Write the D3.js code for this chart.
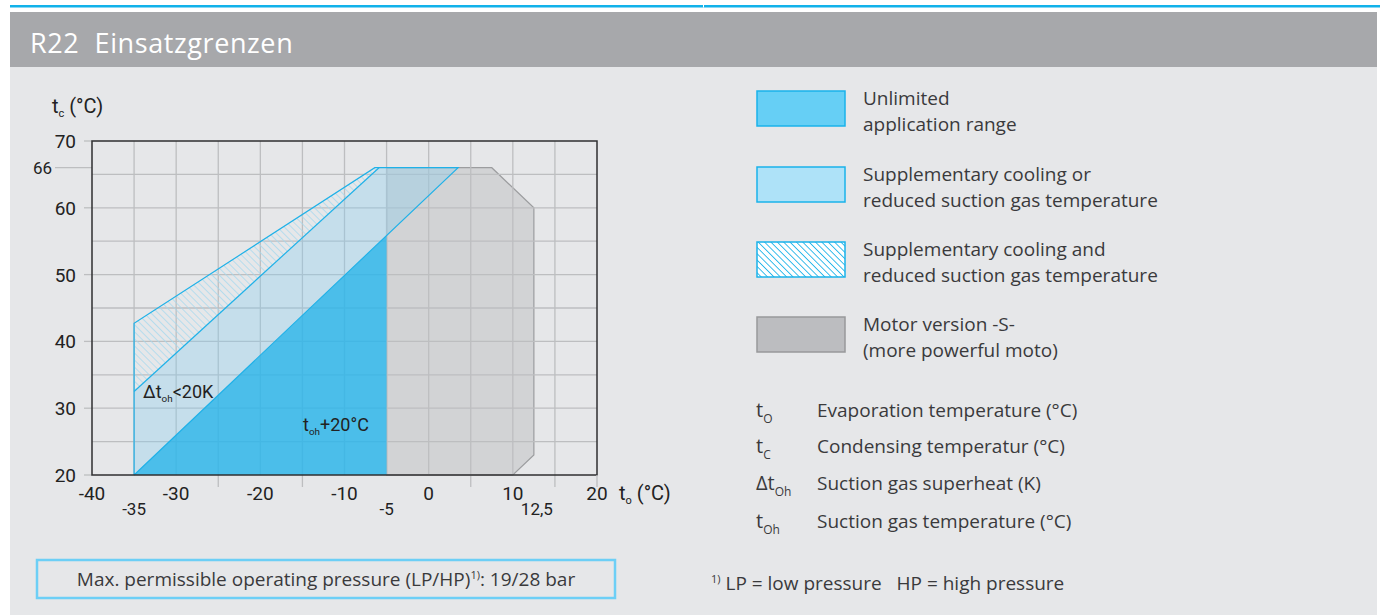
<!DOCTYPE html>
<html>
<head>
<meta charset="utf-8">
<script src="https://cdn.jsdelivr.net/npm/d3@7"></script>
<style>
  html, body { margin: 0; padding: 0; background: #fff; }
  svg { display: block; }
  text { white-space: pre; }
</style>
</head>
<body>
<svg id="chart" width="1380" height="615"></svg>
<script>
// chart values
const xTicks = [-40, -30, -20, -10, 0, 10, 20];
const xSubTicks = [-35, -5, 12.5];
const xSubLabels = ["-35", "-5", "12,5"];
const yTicks = [20, 30, 40, 50, 60, 70];
const yExtraTick = 66;
const gridX = [-35, -30, -25, -20, -15, -10, -5, 0, 5, 10, 15];
const gridY = [25, 30, 35, 40, 45, 50, 55, 60, 65];
const minorTicksX = [-25, -15, 5, 15];

// envelopes [t_o, t_c]
const motorS = [[-5, 20], [-5, 66], [7.5, 66], [12.5, 60], [12.5, 23], [10, 20]];
const supplOr = [[-35, 20], [-35, 32.5], [-5.9, 66], [3.5, 66]];
const supplAnd = [[-35, 32.5], [-35, 42.7], [-6.4, 66], [-5.9, 66]];
const unlimited = [[-35, 20], [-5, 55.8], [-5, 20]];

const legendItems = [
  ["Unlimited", "application range"],
  ["Supplementary cooling or", "reduced suction gas temperature"],
  ["Supplementary cooling and", "reduced suction gas temperature"],
  ["Motor version -S-", "(more powerful moto)"]
];
const symbolItems = [
  ["", "t", "O", "Evaporation temperature (°C)"],
  ["", "t", "C", "Condensing temperatur (°C)"],
  ["Δ", "t", "Oh", "Suction gas superheat (K)"],
  ["", "t", "Oh", "Suction gas temperature (°C)"]
];

const narrow = "'Liberation Sans Narrow', 'Roboto', sans-serif";
const sans = "'Open Sans', 'Noto Sans', sans-serif";
const textCol = "#3a3a3c";

const svg = d3.select("#chart");

// page background
svg.append("rect").attr("x", 10).attr("y", 5).attr("width", 1370).attr("height", 2.5).attr("fill", "#12b2ea");
svg.append("rect").attr("x", 703).attr("y", 5).attr("width", 1).attr("height", 2.5).attr("fill", "#ffffff");
svg.append("rect").attr("x", 10).attr("y", 12).attr("width", 1367).attr("height", 603).attr("fill", "#e6e7e9");
svg.append("rect").attr("x", 10).attr("y", 12).attr("width", 1367).attr("height", 55).attr("fill", "#a7a8ab");
svg.append("text").attr("x", 30).attr("y", 53)
  .attr("font-family", sans).attr("font-size", 27).attr("letter-spacing", 0.6).attr("fill", "#fff")
  .text("R22  Einsatzgrenzen");

// hatch pattern
const defs = svg.append("defs");
function hatch(id, stroke, bg, width, size)
{
  const p = defs.append("pattern").attr("id", id)
    .attr("patternUnits", "userSpaceOnUse").attr("width", size).attr("height", size)
    .attr("patternTransform", "rotate(-45)");
  if (bg)
    p.append("rect").attr("width", size).attr("height", size).attr("fill", bg);
  p.append("line").attr("x1", 0).attr("y1", 0).attr("x2", 0).attr("y2", size)
    .attr("stroke", stroke).attr("stroke-width", width);
}
hatch("hatchChart", "#a6d8ee", null, 1.5, 5);
hatch("hatchLegend", "#25b6ea", "#ffffff", 1.8, 4.5);

const x = d3.scaleLinear().domain([-40, 20]).range([92, 597]);
const y = d3.scaleLinear().domain([20, 70]).range([475, 141]);
const area = d3.line().x(d => x(d[0])).y(d => y(d[1]));

const g = svg.append("g");

// motor S envelope under the grid
g.append("path").attr("d", area(motorS) + "Z")
  .attr("fill", "#d2d3d5").attr("stroke", "#9c9d9f").attr("stroke-width", 1.2);

// grid
g.selectAll(".gx").data(gridX).join("line")
  .attr("x1", d => x(d)).attr("x2", d => x(d))
  .attr("y1", y(70)).attr("y2", d => minorTicksX.includes(d) ? y(20) + 12 : y(20))
  .attr("stroke", "#bdbec0").attr("stroke-width", 1.3);
g.selectAll(".gy").data(gridY).join("line")
  .attr("x1", x(-40)).attr("x2", x(20))
  .attr("y1", d => y(d)).attr("y2", d => y(d))
  .attr("stroke", "#bdbec0").attr("stroke-width", 1.3);
g.append("line").attr("x1", 55).attr("x2", x(-40))
  .attr("y1", y(yExtraTick)).attr("y2", y(yExtraTick))
  .attr("stroke", "#bdbec0").attr("stroke-width", 1.3);
g.selectAll(".ty").data(yTicks).join("line")
  .attr("x1", x(-40) - 8).attr("x2", x(-40))
  .attr("y1", d => y(d)).attr("y2", d => y(d))
  .attr("stroke", "#bdbec0").attr("stroke-width", 1.3);

// blue envelopes
g.append("path").attr("d", area(supplOr) + "Z")
  .attr("fill", "#86cff2").attr("fill-opacity", 0.35).attr("stroke", "none");
g.append("path").attr("d", area(supplAnd) + "Z")
  .attr("fill", "url(#hatchChart)").attr("stroke", "none");
g.append("path").attr("d", area(unlimited) + "Z")
  .attr("fill", "#2fb6ea").attr("fill-opacity", 0.85).attr("stroke", "none");

// cyan outlines
const edge = "#1fb1e8";
g.append("path").attr("d", area([supplOr[0], supplAnd[1], supplAnd[2], supplOr[3], supplOr[0]]))
  .attr("fill", "none").attr("stroke", edge).attr("stroke-width", 1.2);
g.append("path").attr("d", area([supplOr[1], supplOr[2]]))
  .attr("fill", "none").attr("stroke", edge).attr("stroke-width", 1.2);

// frame
g.append("rect").attr("x", x(-40)).attr("y", y(70))
  .attr("width", x(20) - x(-40)).attr("height", y(20) - y(70))
  .attr("fill", "none").attr("stroke", "#2f2f30").attr("stroke-width", 1.5);
g.append("line").attr("x1", x(20)).attr("x2", x(20)).attr("y1", y(20)).attr("y2", y(20) + 12)
  .attr("stroke", "#bdbec0").attr("stroke-width", 1.3);

// axis labels
g.selectAll(".lx").data(xTicks).join("text")
  .attr("x", d => x(d)).attr("y", y(20) + 25).attr("text-anchor", "middle")
  .attr("font-family", narrow).attr("font-size", 19).attr("fill", "#222")
  .text(d => d);
g.selectAll(".lxs").data(xSubTicks).join("text")
  .attr("x", d => x(d) + (d === 12.5 ? 3 : 0)).attr("y", y(20) + 40).attr("text-anchor", "middle")
  .attr("font-family", narrow).attr("font-size", 17).attr("fill", "#222")
  .text((d, i) => xSubLabels[i]);
g.selectAll(".ly").data(yTicks).join("text")
  .attr("x", 76).attr("y", d => y(d) + 7).attr("text-anchor", "end")
  .attr("font-family", narrow).attr("font-size", 19).attr("fill", "#222")
  .text(d => d);
g.append("text").attr("x", 52).attr("y", y(yExtraTick) + 6).attr("text-anchor", "end")
  .attr("font-family", narrow).attr("font-size", 17).attr("fill", "#222")
  .text(yExtraTick);

function subLabel(px, py, pre, base, sub, post, size)
{
  const t = g.append("text").attr("x", px).attr("y", py)
    .attr("font-family", narrow).attr("font-size", size).attr("fill", "#222");
  t.append("tspan").text(pre + base);
  t.append("tspan").attr("font-size", size * 0.55).attr("dy", 4).text(sub);
  t.append("tspan").attr("dy", -4).text(post);
}
subLabel(52, 113, "", "t", "c", " (°C)", 20);
subLabel(619, 500, "", "t", "o", " (°C)", 20);
subLabel(143, 398, "Δ", "t", "oh", "<20K", 18);
subLabel(303, 431, "", "t", "oh", "+20°C", 18);

// legend
const swatchFill = [
  { fill: "#66cff5", stroke: "#1ab3ea" },
  { fill: "#aee2f8", stroke: "#1ab3ea" },
  { fill: "url(#hatchLegend)", stroke: "#1ab3ea" },
  { fill: "#bcbdc0", stroke: "#98999b" }
];
const legendY = [91, 167, 242, 317];
const leg = svg.append("g");
legendItems.forEach((lines, i) =>
{
  leg.append("rect").attr("x", 757).attr("y", legendY[i]).attr("width", 88).attr("height", 35)
    .attr("fill", swatchFill[i].fill).attr("stroke", swatchFill[i].stroke).attr("stroke-width", 1.5);
  lines.forEach((line, j) =>
  {
    leg.append("text").attr("x", 863).attr("y", legendY[i] + 14 + j * 26)
      .attr("font-family", sans).attr("font-size", 19).attr("fill", textCol)
      .text(line);
  });
});

// symbols
const symbolY = [417, 453, 490, 528];
symbolItems.forEach((s, i) =>
{
  const t = leg.append("text").attr("x", 756).attr("y", symbolY[i])
    .attr("font-family", sans).attr("font-size", 20).attr("fill", textCol);
  t.append("tspan").text(s[0] + s[1]);
  t.append("tspan").attr("font-size", 12).attr("dy", 6).text(s[2]);
  leg.append("text").attr("x", 817).attr("y", symbolY[i])
    .attr("font-family", sans).attr("font-size", 19).attr("fill", textCol)
    .text(s[3]);
});

// pressure box
svg.append("rect").attr("x", 37).attr("y", 560).attr("width", 578).attr("height", 38)
  .attr("fill", "none").attr("stroke", "#6dcff6").attr("stroke-width", 2.5);
const pt = svg.append("text").attr("x", 326).attr("y", 586).attr("text-anchor", "middle")
  .attr("font-family", sans).attr("font-size", 19).attr("fill", textCol);
pt.append("tspan").text("Max. permissible operating pressure (LP/HP)");
pt.append("tspan").attr("font-size", 11).attr("dy", -7).text("1)");
pt.append("tspan").attr("dy", 7).text(": 19/28 bar");

const ft = svg.append("text").attr("x", 711).attr("y", 590)
  .attr("font-family", sans).attr("font-size", 19).attr("fill", textCol);
ft.append("tspan").attr("font-size", 11).attr("dy", -7).text("1)");
ft.append("tspan").attr("dy", 7).text(" LP = low pressure   HP = high pressure");
</script>
</body>
</html>
